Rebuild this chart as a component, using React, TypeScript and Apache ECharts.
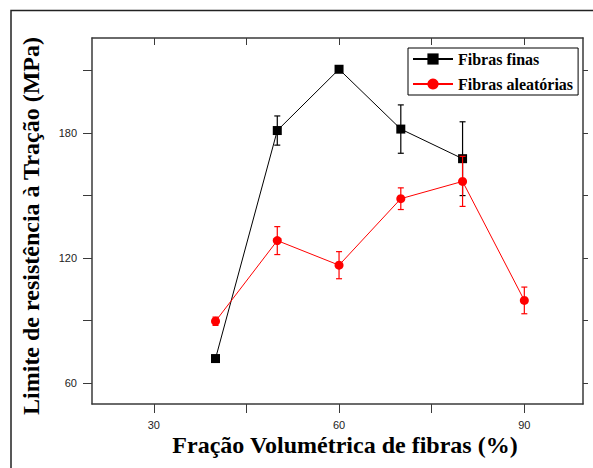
import React, { useEffect, useRef } from "react";
import * as echarts from "echarts";

const finasX = [40, 50, 60, 70, 80];
const finasY = [71.8, 181.2, 210.6, 181.9, 167.7];
const finasErr = [1, 7, 0, 11.6, 17.7];

const aleatX = [40, 50, 60, 70, 80, 90];
const aleatY = [89.7, 128.4, 116.6, 148.5, 156.8, 99.7];
const aleatErr = [2, 6.7, 6.5, 5.2, 12, 6.4];

const xTickValues = [30, 45, 60, 75, 90];
const xLabelValues = [30, 60, 90];
const yTickValues = [60, 90, 120, 150, 180, 210];
const yLabelValues = [60, 120, 180];

const seriesNames = ["Fibras finas", "Fibras aleatórias"];
const xTitle = "Fração Volumétrica de fibras (%)";
const yTitle = "Limite de resistência à Tração (MPa)";

const X_MIN = 20;
const X_MAX = 99.5;
const Y_MIN = 50;
const Y_MAX = 225.6;

const AXIS_COLOR = "#3a3a3a";
const SERIF = "'Liberation Serif', 'Times New Roman', serif";
const SANS = "'Liberation Sans', Arial, sans-serif";

function errData(xs: number[], ys: number[], es: number[]) {
  return xs.map((x, i) => [x, ys[i] - es[i], ys[i] + es[i]]);
}

function errRender(color: string) {
  return (params: any, api: any) => {
    const x = api.value(0);
    const lo = api.coord([x, api.value(1)]);
    const hi = api.coord([x, api.value(2)]);
    const hw = 3;
    const style = { stroke: color, lineWidth: 1.2 };
    return {
      type: "group",
      children: [
        { type: "line", shape: { x1: lo[0], y1: lo[1], x2: hi[0], y2: hi[1] }, style },
        { type: "line", shape: { x1: lo[0] - hw, y1: lo[1], x2: lo[0] + hw, y2: lo[1] }, style },
        { type: "line", shape: { x1: hi[0] - hw, y1: hi[1], x2: hi[0] + hw, y2: hi[1] }, style },
      ],
    };
  };
}

export default function App() {
  const ref = useRef<HTMLDivElement>(null);
  useEffect(() => {
    document.body.style.margin = "0";
    const chart = echarts.init(ref.current!, null, { renderer: "svg" });
    const axisLine = { show: true, lineStyle: { color: AXIS_COLOR, width: 1.5 } };
    const tickLine = { color: AXIS_COLOR, width: 1 };
    chart.setOption({
      animation: false,
      backgroundColor: "#ffffff",
      grid: { left: 92, right: 10, top: 38, bottom: 64 },
      legend: {
        data: seriesNames,
        orient: "vertical",
        left: 408,
        top: 48,
        itemWidth: 40,
        itemHeight: 14,
        itemGap: 9,
        padding: [3, 5, 3, 4],
        borderColor: "#000",
        borderWidth: 1,
        backgroundColor: "#fff",
        textStyle: { fontFamily: SERIF, fontWeight: "bold", fontSize: 16, color: "#000" },
      },
      xAxis: [
        {
          type: "value",
          min: X_MIN,
          max: X_MAX,
          position: "bottom",
          axisLine,
          axisTick: { show: true, customValues: xTickValues, length: 9, lineStyle: tickLine },
          axisLabel: {
            customValues: xLabelValues,
            margin: 15,
            fontFamily: SANS,
            fontSize: 11,
            color: "#222",
          },
          splitLine: { show: false },
        },
        {
          type: "value",
          min: X_MIN,
          max: X_MAX,
          position: "top",
          axisLine,
          axisTick: { show: true, inside: true, customValues: xTickValues, length: 7, lineStyle: tickLine },
          axisLabel: { show: false },
          splitLine: { show: false },
        },
      ],
      yAxis: [
        {
          type: "value",
          min: Y_MIN,
          max: Y_MAX,
          position: "left",
          axisLine,
          axisTick: { show: true, customValues: yTickValues, length: 9, lineStyle: tickLine },
          axisLabel: {
            customValues: yLabelValues,
            margin: 15,
            fontFamily: SANS,
            fontSize: 11,
            color: "#222",
          },
          splitLine: { show: false },
        },
        {
          type: "value",
          min: Y_MIN,
          max: Y_MAX,
          position: "right",
          axisLine,
          axisTick: { show: true, customValues: yTickValues, length: 5, lineStyle: tickLine },
          axisLabel: { show: false },
          splitLine: { show: false },
        },
      ],
      graphic: [
        {
          type: "polyline",
          shape: { points: [[11, 468], [11, 10.5], [593, 10.5]] },
          style: { stroke: "#222", lineWidth: 1.5, fill: "none" },
          silent: true,
        },
        {
          type: "text",
          x: 345,
          y: 445,
          style: {
            text: xTitle,
            font: `bold 24px ${SERIF}`,
            fill: "#000",
            textAlign: "center",
            textVerticalAlign: "middle",
          },
        },
        {
          type: "text",
          x: 31,
          y: 226,
          rotation: Math.PI / 2,
          style: {
            text: yTitle,
            font: `bold 24px ${SERIF}`,
            fill: "#000",
            textAlign: "center",
            textVerticalAlign: "middle",
          },
        },
      ],
      series: [
        {
          name: seriesNames[0],
          type: "line",
          data: finasX.map((x, i) => [x, finasY[i]]),
          symbol: "rect",
          symbolSize: 9,
          itemStyle: { color: "#000" },
          lineStyle: { color: "#000", width: 1 },
          z: 3,
        },
        {
          name: seriesNames[0] + " erro",
          type: "custom",
          data: errData(finasX, finasY, finasErr),
          renderItem: errRender("#000"),
          z: 3,
        },
        {
          name: seriesNames[1],
          type: "line",
          data: aleatX.map((x, i) => [x, aleatY[i]]),
          symbol: "circle",
          symbolSize: 9,
          itemStyle: { color: "#ff0000" },
          lineStyle: { color: "#ff0000", width: 1 },
          z: 4,
        },
        {
          name: seriesNames[1] + " erro",
          type: "custom",
          data: errData(aleatX, aleatY, aleatErr),
          renderItem: errRender("#ff0000"),
          z: 4,
        },
      ],
    });
    return () => chart.dispose();
  }, []);
  return <div ref={ref} style={{ position: "absolute", left: 0, top: 0, width: 593, height: 468 }} />;
}
